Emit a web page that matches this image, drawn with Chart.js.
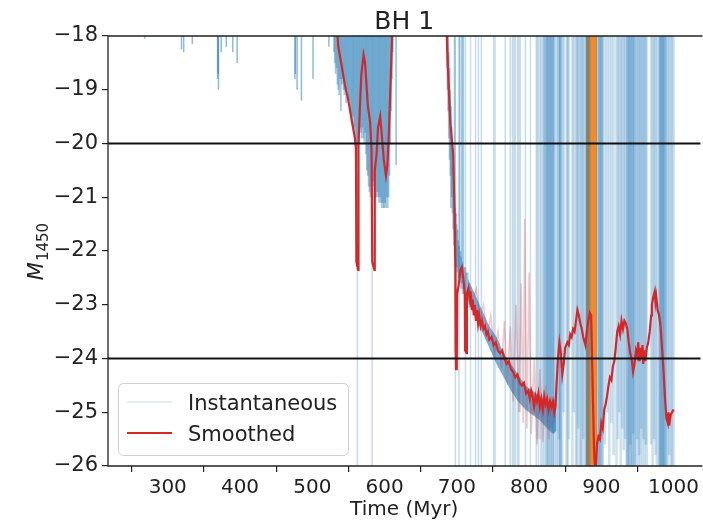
<!DOCTYPE html>
<html><head><meta charset="utf-8">
<script src="https://cdn.jsdelivr.net/npm/chart.js@4.4.1/dist/chart.umd.min.js"></script>
<style>html,body{margin:0;padding:0;background:#fff;overflow:hidden}canvas{display:block}</style>
</head><body><canvas id="c" width="703" height="528"></canvas>
<script>
// ---------- text ----------
const chartTitle = 'BH 1';
const xAxisLabel = 'Time (Myr)';
const yLabelMain = 'M';
const yLabelSub = '1450';
const seriesNames = ['Instantaneous', 'Smoothed'];

// ---------- axes ----------
const xTicks = [300, 400, 500, 600, 700, 800, 900, 1000];
const yTicks = [-26, -25, -24, -23, -22, -21, -20, -19, -18];
const xRange = [217.3, 1037.2];
const yRange = [-26, -18];
const refLines = [-20, -24];
const highlightSpan = [879, 894];

// ---------- instantaneous M1450: vertical excursions [time, faint end, bright end] ----------
const instQuiet = [
  [268,-17,-18.05],[319,-17,-18.25],[322,-17,-18.3],[334,-17,-18.15],[369,-17,-18.8],[369.6,-17,-18.7],
  [370.2,-17,-19.0],[374,-17,-18.3],[381,-17,-18.2],[390,-17,-18.3],[396,-17,-18.5],[476,-17,-18.8],
  [476.6,-17,-18.7],[479,-17,-19.0],[485,-17,-19.2],[501,-17,-18.8],[523,-17,-18.2]
];
const instRise1 = [
  [530,-17,-18.3],[531.2,-17,-18.5],[532.4,-17,-18.7],[533.6,-17,-18.6],[534.8,-17,-18.9],[536,-17,-19.0],
  [537.2,-17,-19.1],[538.4,-17,-18.8],[539.6,-17,-19.4],[540.8,-17,-18.9],[542,-17,-18.8],[543.2,-17,-19.0],
  [544.4,-17,-19.1],[545.6,-17,-19.0],[546.8,-17,-19.25],[548,-17,-19.0],[549.2,-17,-19.2],[550.4,-17,-19.3],
  [551.6,-17,-19.2],[552.8,-17,-19.4],[554,-17,-19.5],[555.2,-17,-19.6],[556.4,-17,-19.5],[557.6,-17,-19.8],
  [558.8,-17,-19.7],[560,-17,-20.2],[561.2,-17,-20.0],[562.4,-17,-20.1],[563.6,-17,-19.9],[564.8,-17,-20.0],
  [566,-17,-19.7],[567.2,-17,-19.8],[568.4,-17,-19.9],[569.6,-17,-19.7],[570.8,-17,-19.9],[572,-17,-20.0],
  [573.2,-17,-19.8],[574.4,-17,-20.2],[575.6,-17,-20.5],[576.8,-17,-20.6],[578,-17,-20.8],[579.2,-17,-20.9],
  [580.4,-17,-21.0],[581.6,-17,-20.8],[582.8,-17,-21.0],[584,-17,-20.7],[585.2,-17,-20.8],[586.4,-17,-21.0],
  [587.6,-17,-21.0],[588.8,-17,-21.0],[590,-17,-20.9],[591.2,-17,-21.0],[592.4,-17,-21.1],[593.6,-17,-21.0],
  [594.8,-17,-21.1],[596,-17,-21.2],[597.2,-17,-21.1],[598.4,-17,-21.2],[599.6,-17,-21.2],[600.8,-17,-21.1],
  [602,-17,-21.2],[603.2,-17,-21.0],[604.4,-17,-21.2],[605.6,-17,-21.0],[606.8,-17,-20.6],[608,-17,-20.0],
  [609.2,-17,-19.4],[610.4,-17,-18.8],[611.6,-17,-18.3],[616,-17,-20.4]
];
const instRise2 = [
  [686,-17,-18.6],[687,-17.5,-19.0],[688,-18,-19.4],[689,-18.3,-19.9],[690,-18.6,-20.3],[691,-19.0,-20.6],
  [692,-19.3,-21.2],[693,-19.7,-21.0],[694,-20.0,-21.3],[695,-20.4,-21.6],[696,-20.7,-21.9],[697,-17,-22.1],
  [698,-21.2,-22.3],[699,-21.3,-22.3],[700,-21.5,-22.3],[701,-21.6,-22.4],[702,-21.8,-22.5],[703,-21.9,-22.5],
  [704,-17,-22.6],[705,-22.0,-22.5],[706,-22.1,-22.7],[707,-17,-22.6],[708,-22.2,-22.8],[709,-17,-22.7],
  [710,-22.3,-22.8],[712,-22.3,-22.85],[713,-22.4,-22.9],[715,-22.4,-23.0]
];
const instSingles = [
  [562.4,-20.0,-26.5],[582.8,-21.0,-26.5],[698,-17,-28],[703,-17,-28],[712,-17,-28],
  [719,-17,-28],[726,-17,-28],[730,-17,-28],[734,-17,-28],[751,-17,-28],[753,-17,-28],[767,-17,-28],
  [774,-17,-28],[777,-17,-28],[779,-17,-28],[781,-17,-26],[784,-17,-28],[786,-17,-28],[788,-17,-25],
  [795,-17,-28],[802,-17,-28],[810,-17,-28],[811.5,-17,-25.5],[813,-17,-28],[815,-17,-25.5],[816.5,-17,-28]
];
const instStripes = [
  [819,-17,-28],[820.5,-17,-25],[822,-17,-28],[823,-17,-24.9],[824.5,-17,-28],[825.5,-17,-26],[826,-17,-25.2],
  [827,-17,-28],[828.5,-17,-25],[829,-17,-26],[830,-17,-28],[831,-17,-25.3],[832.5,-17,-28],[833,-17,-26],
  [834,-17,-25.4],[835,-17,-28],
  [838,-17,-28],[840,-17,-28],[841.5,-17,-25.5],[843,-17,-28],[843.2,-17,-28],[843.4,-17,-28],[846,-17,-28],[848,-17,-25],
  [852,-17,-28],[853.5,-17,-28],[855,-17,-25.5],[860,-17,-28],[862,-17,-25],[865,-17,-28],[866.5,-17,-28],
  [868,-17,-25.3],[870,-17,-26],[872,-17,-28],[873.5,-17,-28],[875,-17,-25.5],[877,-17,-28],
  [879,-17,-28],[880,-17,-28],[881,-17,-28],[882.5,-17,-28],[883.5,-17,-28],
  [895,-17,-28],[896,-17,-28],[897.5,-17,-28],[898,-17,-26],[899,-17,-28],[900.5,-17,-25.5],[901,-17,-26],[902,-17,-28],
  [905,-17,-25.6],[908,-17,-25],[911,-17,-28],[914,-17,-25.2],[917,-17,-25.8],
  [921,-17,-28],[923,-17,-25.5],[925,-17,-25],[927,-17,-28],[929,-17,-25.3],[931,-17,-25.7],[933,-17,-25.5],
  [935,-17,-28],[936,-17,-26],[937,-17,-28],[938.5,-17,-28],[939,-17,-26],[940,-17,-25.6],[941,-17,-28],
  [942.5,-17,-28],[943,-17,-26],[944,-17,-25.4],[945.5,-17,-28],[946,-17,-26],
  [948,-17,-28],[949.5,-17,-25.5],[951,-17,-28],[952.5,-17,-25.8],[954,-17,-28],
  [955.5,-17,-25.3],[957,-17,-28],[958.5,-17,-25.5],[960,-17,-28],[961.5,-17,-25.6],[963,-17,-28],
  [969,-17,-25.6],[971,-17,-28],[973,-17,-25.5],[975,-17,-25.8],[977,-17,-28],
  [980,-17,-28],[981,-17,-28],[981.5,-17,-26],[982.5,-17,-28],[983.5,-17,-28],[984.5,-17,-26],[985,-17,-28],
  [986,-17,-28],[987,-17,-26],[987.5,-17,-28],
  [989,-17,-28],[990,-17,-28],[992,-17,-28],[994,-17,-25.8],[996,-17,-28],[998,-17,-28],[1000,-17,-28]
];
// dense instantaneous band during the 715-838 Myr decline
const bandTime   = [715, 725, 735, 745, 755, 765, 775, 785, 795, 805, 815, 825, 833, 838];
const bandFaint  = [-22.5, -22.8, -23.1, -23.4, -23.6, -23.9, -24.1, -24.3, -24.5, -24.6, -24.7, -24.8, -24.8, -24.7];
const bandBright = [-22.9, -23.2, -23.5, -23.8, -24.1, -24.35, -24.6, -24.8, -24.95, -25.05, -25.15, -25.3, -25.4, -25.35];

// ---------- smoothed M1450 [time, mag] ----------
const smoothed = [
  [530,-17.0],[536,-18.2],[540,-18.5],[545,-18.9],[550,-19.2],[555,-19.6],[559,-19.9],[560.5,-20.1],[561,-22.2],[563.5,-22.35],
  [564,-20.0],[566,-19.3],[568,-18.7],[571,-18.35],[573,-18.5],[575,-18.9],[577,-19.3],[580,-19.6],[582,-20.1],[583,-22.2],
  [586,-22.35],[586.5,-20.5],[589,-20.2],[591,-19.7],[594,-19.5],[596,-19.8],[599,-20.3],[602,-20.6],[604,-20.4],[606,-19.8],
  [608,-19.0],[610,-18.2],[612,-17.0],[650,-15.0],[684,-17.0],[687,-18.3],[689,-19.0],[691,-19.6],[693,-19.9],[695,-20.2],
  [697,-21.3],[698,-22.3],[698.3,-23.8],[699,-24.2],[700,-24.1],[700.5,-22.8],[703,-22.6],[705,-22.35],[707,-22.3],[709,-22.5],
  [711,-22.8],[711.5,-23.85],[713.5,-23.9],[714,-22.8],[716,-22.7],[718,-22.9],[719,-22.75],[721,-23.1],[722,-22.9],[723.5,-23.2],
  [725,-23.0],[726.5,-23.3],[728,-23.1],[729.5,-23.35],[731,-23.2],[733,-23.4],[735,-23.3],[737,-23.45],[739,-23.4],[741,-23.55],
  [743,-23.5],[745,-23.65],[748,-23.6],[751,-23.75],[754,-23.7],[757,-23.85],[760,-23.9],[763,-23.85],[766,-24.0],[769,-24.1],
  [772,-24.05],[775,-24.2],[778,-24.25],[781,-24.35],[784,-24.3],[787,-24.45],[790,-24.5],[793,-24.45],[796,-24.65],[799,-24.6],
  [801,-24.75],[803,-24.6],[805,-24.7],[807,-24.9],[809,-24.7],[811,-24.8],[813,-24.65],[815,-24.9],[817,-24.75],[819,-24.95],
  [821,-24.7],[823,-24.85],[825,-24.75],[827,-24.95],[829,-24.8],[831,-24.9],[833,-24.8],[835,-25.0],[836.5,-24.9],[838,-24.5],
  [840,-24.0],[842,-23.7],[844,-23.9],[846,-24.3],[848,-24.1],[850,-23.8],[853,-23.7],[855,-23.75],[857,-23.55],[859,-23.6],
  [861,-23.45],[863,-23.5],[865,-23.3],[867,-23.1],[869,-23.2],[871,-23.35],[873,-23.45],[875,-23.6],[878,-23.75],[880,-23.5],
  [882,-23.3],[884,-23.15],[886,-23.2],[888,-24.5],[890,-25.7],[892,-26.3],[894,-25.6],[896,-25.45],[898,-25.5],[900,-25.2],
  [902,-25.3],[904,-24.95],[906,-24.85],[908,-24.7],[910,-24.5],[912,-24.35],[914,-24.4],[916,-24.15],[918,-24.05],[920,-23.8],
  [922,-23.5],[924,-23.4],[926,-23.55],[928,-23.3],[930,-23.45],[932,-23.3],[934,-23.35],[936,-23.45],[938,-23.7],[940,-23.9],
  [942,-24.0],[944,-24.25],[946,-24.1],[948,-23.85],[950,-23.95],[951,-23.7],[953,-24.05],[954,-23.8],[956,-24.0],[957,-23.75],
  [958,-24.1],[960,-23.85],[961,-24.05],[963,-23.8],[965,-23.7],[967,-23.5],[969,-23.2],[970,-23.0],[972,-22.85],[974,-22.75],
  [975,-22.95],[976,-22.85],[978,-23.1],[980,-23.2],[982,-23.4],[984,-23.8],[986,-24.2],[988,-24.7],[990,-25.1],[992,-25.2],
  [993,-25.0],[994,-25.25],[996,-25.05],[998,-25.0],[1000,-24.95]
];
// fainter companion smoothing track (pink) during the decline
const smoothAltTime = [716, 722, 727, 732, 737, 742, 747, 752, 757, 762, 766, 770, 774, 778, 782, 786, 789, 792, 794, 797, 800, 803, 807, 811, 815, 819, 823, 827, 831, 835, 838];
const smoothAltMag  = [-22.6, -22.9, -22.7, -23.3, -23.0, -23.6, -23.2, -23.9, -23.5, -24.2, -23.3, -24.5, -23.4, -24.8, -23.0, -25.0, -22.6, -25.2, -21.4, -25.3, -22.4, -25.4, -24.0, -25.6, -24.2, -25.55, -24.5, -25.5, -24.7, -25.2, -24.7];

// ---------- build ----------
const FONT = 'DejaVu Sans';
const TXT = '#222';
const C0 = '31,119,180';
const toBars = arr => arr.map(([t, faint, bright]) => ({x: t, y: [bright, faint]}));
const pts = (xs, ys) => xs.map((x, i) => ({x, y: ys[i]}));
const minusFmt = v => (v < 0 ? '\u2212' + Math.abs(v) : String(v));
const barSet = (data, alpha, thick, order) => ({
  type: 'bar', label: seriesNames[0], data: toBars(data),
  backgroundColor: 'rgba(' + C0 + ',' + alpha + ')', borderWidth: 0, barThickness: thick,
  inflateAmount: 0, grouped: false, order
});

const decor = {
  id: 'decor',
  beforeDatasetsDraw(chart) {
    const {ctx, chartArea: a, scales: {x}} = chart;
    const x0 = x.getPixelForValue(highlightSpan[0]);
    const x1 = x.getPixelForValue(highlightSpan[1]);
    ctx.save();
    ctx.fillStyle = 'rgba(240,128,22,0.92)';
    ctx.fillRect(x0, a.top, x1 - x0, a.bottom - a.top);
    ctx.restore();
  },
  afterDraw(chart) {
    const {ctx, chartArea: a} = chart;
    ctx.save();
    ctx.strokeStyle = '#222';
    ctx.lineWidth = 1.3;
    ctx.beginPath();
    ctx.moveTo(a.right + 2, a.top); ctx.lineTo(a.left, a.top);
    ctx.lineTo(a.left, a.bottom); ctx.lineTo(a.right + 2, a.bottom);
    ctx.stroke();
    ctx.fillStyle = TXT;
    ctx.font = '25px "' + FONT + '"';
    ctx.textAlign = 'center';
    ctx.textBaseline = 'alphabetic';
    ctx.fillText(chartTitle, (a.left + a.right) / 2, 29);
    ctx.font = '20px "' + FONT + '"';
    ctx.fillText(xAxisLabel, (a.left + a.right) / 2, 515);
    ctx.translate(43, 252);
    ctx.rotate(-Math.PI / 2);
    ctx.textAlign = 'left';
    const fM = 'italic 21px "' + FONT + '"';
    const fS = '15px "' + FONT + '"';
    ctx.font = fM; const wM = ctx.measureText(yLabelMain).width;
    ctx.font = fS; const wS = ctx.measureText(yLabelSub).width;
    const x0 = -(wM + wS) / 2;
    ctx.font = fM; ctx.fillText(yLabelMain, x0, 0);
    ctx.font = fS; ctx.fillText(yLabelSub, x0 + wM + 1, 5);
    ctx.restore();
    // legend
    ctx.save();
    ctx.beginPath();
    ctx.roundRect(118.5, 383.5, 230, 72, 5);
    ctx.fillStyle = 'rgba(255,255,255,0.85)';
    ctx.fill();
    ctx.strokeStyle = '#d0d0d0';
    ctx.lineWidth = 1;
    ctx.stroke();
    ctx.lineWidth = 2;
    ctx.strokeStyle = 'rgba(' + C0 + ',0.12)';
    ctx.beginPath(); ctx.moveTo(127, 402); ctx.lineTo(172, 402); ctx.stroke();
    ctx.lineWidth = 2.2;
    ctx.strokeStyle = '#d62728';
    ctx.beginPath(); ctx.moveTo(127, 433); ctx.lineTo(172, 433); ctx.stroke();
    ctx.fillStyle = TXT;
    ctx.font = '21px "' + FONT + '"';
    ctx.textAlign = 'left';
    ctx.textBaseline = 'alphabetic';
    ctx.fillText(seriesNames[0], 188, 410);
    ctx.fillText(seriesNames[1], 188, 441);
    ctx.restore();
  }
};

new Chart(document.getElementById('c'), {
  type: 'bar',
  data: {
    datasets: [
      {type: 'line', label: 'ref-20', data: pts([100, 1100], [refLines[0], refLines[0]]),
       borderColor: '#111', borderWidth: 2.2, pointRadius: 0, order: 0},
      {type: 'line', label: 'ref-24', data: pts([100, 1100], [refLines[1], refLines[1]]),
       borderColor: '#111', borderWidth: 2.2, pointRadius: 0, order: 0},
      {type: 'line', label: seriesNames[1], data: smoothed.map(([x, y]) => ({x, y})),
       borderColor: '#d62728', borderWidth: 2.2, pointRadius: 0, tension: 0, order: 1},
      {type: 'line', label: 'smoothAlt', data: pts(smoothAltTime, smoothAltMag),
       borderColor: 'rgba(214,39,40,0.25)', borderWidth: 1.6, pointRadius: 0, tension: 0, order: 2},
      {type: 'line', label: 'bandBright', data: pts(bandTime, bandBright),
       borderWidth: 0, borderColor: 'rgba(0,0,0,0)', pointRadius: 0, fill: false, order: 3},
      {type: 'line', label: 'bandFaint', data: pts(bandTime, bandFaint),
       borderWidth: 0, borderColor: 'rgba(0,0,0,0)', pointRadius: 0, fill: '-1',
       backgroundColor: 'rgba(' + C0 + ',0.6)', order: 3},
      barSet(instQuiet, 0.5, 1.5, 5),
      barSet(instRise1, 0.4, 1.8, 5),
      barSet(instRise2, 0.4, 1.8, 5),
      barSet(instSingles, 0.25, 1.5, 6),
      barSet(instStripes, 0.22, 2.6, 6)
    ]
  },
  options: {
    responsive: false,
    animation: false,
    devicePixelRatio: 1,
    events: [],
    layout: {padding: {top: 36, right: 0, left: 0, bottom: 0}},
    plugins: {legend: {display: false}, title: {display: false}, tooltip: {enabled: false}},
    scales: {
      x: {
        type: 'linear', min: xRange[0], max: xRange[1], offset: false,
        afterBuildTicks: ax => { ax.ticks = xTicks.map(v => ({value: v})); },
        afterFit: s => { s.height = 62; },
        ticks: {font: {family: FONT, size: 20}, color: TXT, padding: 4, maxRotation: 0, autoSkip: false, callback: v => String(v)},
        grid: {drawOnChartArea: false, drawTicks: true, tickLength: 6, color: '#222', tickColor: '#222', lineWidth: 1.2},
        border: {display: false}
      },
      y: {
        type: 'linear', min: yRange[0], max: yRange[1],
        afterBuildTicks: ax => { ax.ticks = yTicks.map(v => ({value: v})); },
        afterFit: s => { s.width = 108; },
        ticks: {font: {family: FONT, size: 21}, color: TXT, padding: 4, callback: minusFmt, autoSkip: false},
        grid: {drawOnChartArea: false, drawTicks: true, tickLength: 6, color: '#222', tickColor: '#222', lineWidth: 1.2},
        border: {display: false}
      }
    }
  },
  plugins: [decor]
});
</script>
</body></html>
